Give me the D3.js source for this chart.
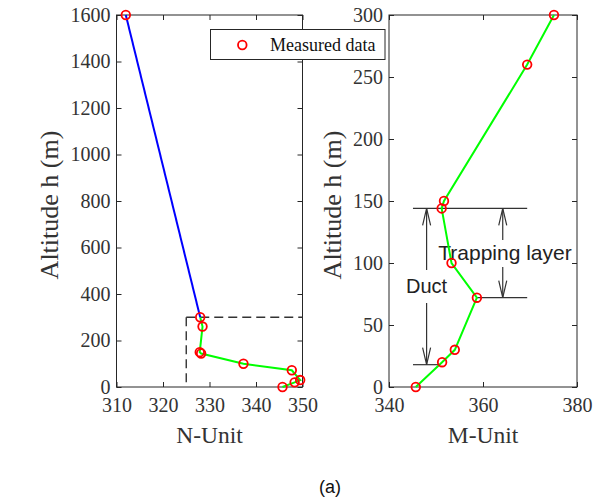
<!DOCTYPE html>
<html><head><meta charset="utf-8">
<script src="https://cdn.jsdelivr.net/npm/d3@7/dist/d3.min.js"></script>
<style>body{margin:0;background:#fff}svg{display:block}</style>
</head><body>
<svg id="c" width="593" height="502"></svg>
<script>
// ---- data ----
const altitudeN = [0, 20, 30, 72, 100, 144, 150, 260, 300, 1600];
const nUnit     = [345.7, 348.3, 349.5, 347.7, 337.3, 328.2, 327.9, 328.5, 328.0, 312.0];
const altitudeM = [0, 20, 30, 72, 100, 144, 150, 260, 300];
const mUnit     = [345.7, 351.3, 354.0, 358.7, 353.3, 351.2, 351.7, 369.4, 375.1];
const nTicks = [310, 320, 330, 340, 350];
const hTicksLeft = [0, 200, 400, 600, 800, 1000, 1200, 1400, 1600];
const mTicks = [340, 360, 380];
const hTicksRight = [0, 50, 100, 150, 200, 250, 300];
const zoomCorner = [325, 300];            // N-unit, altitude of dashed box corner
const ductLevels = [144, 18];             // top, bottom of duct (m)
const trapLevels = [144, 72];             // top, bottom of trapping layer (m)
const ductArrowM = 348;
const trapArrowM = 364.2;
const barTopM = [345.1, 369.4];
const barMidM = [358.7, 369.4];
const barBotM = [345.1, 350.9];
const legendLabel = "Measured data";

const svg = d3.select("#c");
const axisCol = "#262626";
const textCol = "#333";
const serif = "'Liberation Serif','Times New Roman',serif";
const sans = "'Liberation Sans',Arial,sans-serif";

const yTop = 15, yBot = 387;
const xN = d3.scaleLinear().domain([310, 350]).range([116.5, 302.5]);
const yN = d3.scaleLinear().domain([0, 1600]).range([yBot, yTop]);
const xM = d3.scaleLinear().domain([340, 380]).range([389, 577]);
const yM = d3.scaleLinear().domain([0, 300]).range([yBot, yTop]);

function drawAxes(x, y, xt, yt, xlab, ylabX) {
  const g = svg.append("g");
  const [x0, x1] = x.range();
  const styleAxis = sel => {
    sel.attr("font-family", null).attr("font-size", null);
    sel.select(".domain").remove();
    sel.selectAll("line").attr("stroke", axisCol).attr("stroke-width", 1);
    sel.selectAll("text").attr("fill", textCol).attr("font-family", serif).style("font-family", serif).style("font-size", "20px");
  };
  g.append("g").attr("transform", `translate(0,${yBot})`)
    .call(d3.axisBottom(x).tickValues(xt).tickSize(-5).tickPadding(11).tickFormat(d3.format("d"))).call(styleAxis);
  g.append("g").attr("transform", `translate(0,${yTop})`)
    .call(d3.axisTop(x).tickValues(xt).tickSize(-5).tickFormat("")).call(styleAxis);
  g.append("g").attr("transform", `translate(${x0},0)`)
    .call(d3.axisLeft(y).tickValues(yt).tickSize(-5).tickPadding(6).tickFormat(d3.format("d"))).call(styleAxis);
  g.append("g").attr("transform", `translate(${x1},0)`)
    .call(d3.axisRight(y).tickValues(yt).tickSize(-5).tickFormat("")).call(styleAxis);
  g.append("rect").attr("x", x0).attr("y", yTop).attr("width", x1 - x0).attr("height", yBot - yTop)
    .attr("fill", "none").attr("stroke", axisCol).attr("stroke-width", 1);
  g.append("text").attr("x", (x0 + x1) / 2).attr("y", 443).attr("text-anchor", "middle")
    .style("font-family", serif).style("font-size", "23.5px").attr("fill", textCol).text(xlab);
  g.append("text").attr("transform", `translate(${ylabX},205) rotate(-90)`).attr("text-anchor", "middle")
    .style("font-family", serif).style("font-size", "26px").attr("fill", textCol).text("Altitude h (m)");
}

drawAxes(xN, yN, nTicks, hTicksLeft, "N-Unit", 58);
drawAxes(xM, yM, mTicks, hTicksRight, "M-Unit", 341);

// ---- left plot ----
const dash = "9,5";
svg.append("line").attr("x1", xN(zoomCorner[0])).attr("x2", xN(350))
  .attr("y1", yN(zoomCorner[1])).attr("y2", yN(zoomCorner[1]))
  .attr("stroke", "#333").attr("stroke-width", 1.4).attr("stroke-dasharray", dash);
svg.append("line").attr("x1", xN(zoomCorner[0])).attr("x2", xN(zoomCorner[0]))
  .attr("y1", yN(zoomCorner[1])).attr("y2", yN(0))
  .attr("stroke", "#333").attr("stroke-width", 1.4).attr("stroke-dasharray", dash);

const ptsN = altitudeN.map((h, i) => [nUnit[i], h]);
const lineN = d3.line().x(d => xN(d[0])).y(d => yN(d[1]));
svg.append("path").attr("d", lineN(ptsN.slice(0, 9))).attr("fill", "none")
  .attr("stroke", "#00ff00").attr("stroke-width", 2);
svg.append("path").attr("d", lineN(ptsN.slice(8))).attr("fill", "none")
  .attr("stroke", "#0000ff").attr("stroke-width", 2);
svg.append("g").selectAll("circle").data(ptsN).join("circle")
  .attr("cx", d => xN(d[0])).attr("cy", d => yN(d[1])).attr("r", 4.3)
  .attr("fill", "none").attr("stroke", "#ff0000").attr("stroke-width", 1.8);

// ---- right plot annotations ----
const ann = svg.append("g").attr("stroke", "#333").attr("stroke-width", 1.2).attr("fill", "none");
function hbar(m, h) {
  ann.append("line").attr("x1", xM(m[0])).attr("x2", xM(m[1])).attr("y1", yM(h)).attr("y2", yM(h));
}
hbar(barTopM, ductLevels[0]);
hbar(barMidM, trapLevels[1]);
hbar(barBotM, ductLevels[1]);

function dblArrow(m, hTop, hBot, gapTop, gapBot) {
  const x = xM(m), y1 = yM(hTop), y2 = yM(hBot);
  ann.append("line").attr("x1", x).attr("x2", x).attr("y1", y1).attr("y2", gapTop);
  ann.append("line").attr("x1", x).attr("x2", x).attr("y1", gapBot).attr("y2", y2);
  ann.append("path").attr("d", `M${x - 4},${y1 + 17}L${x},${y1}L${x + 4},${y1 + 17}`);
  ann.append("path").attr("d", `M${x - 4},${y2 - 17}L${x},${y2}L${x + 4},${y2 - 17}`);
}
dblArrow(ductArrowM, ductLevels[0], ductLevels[1], 270, 303);
dblArrow(trapArrowM, trapLevels[0], trapLevels[1], 240, 267);

svg.append("text").attr("x", xM(ductArrowM)).attr("y", 293).attr("text-anchor", "middle")
  .style("font-family", sans).style("font-size", "20px").attr("fill", "#222").text("Duct");
svg.append("text").attr("x", 505).attr("y", 260).attr("text-anchor", "middle")
  .style("font-family", sans).style("font-size", "21px").attr("fill", "#222").text("Trapping layer");

const ptsM = altitudeM.map((h, i) => [mUnit[i], h]);
const lineM = d3.line().x(d => xM(d[0])).y(d => yM(d[1]));
svg.append("path").attr("d", lineM(ptsM)).attr("fill", "none")
  .attr("stroke", "#00ff00").attr("stroke-width", 2);
svg.append("g").selectAll("circle").data(ptsM).join("circle")
  .attr("cx", d => xM(d[0])).attr("cy", d => yM(d[1])).attr("r", 4.3)
  .attr("fill", "none").attr("stroke", "#ff0000").attr("stroke-width", 1.8);

// ---- legend ----
const lg = svg.append("g");
lg.append("rect").attr("x", 210.5).attr("y", 29.5).attr("width", 174.5).attr("height", 30)
  .attr("fill", "#fff").attr("stroke", axisCol).attr("stroke-width", 1);
lg.append("circle").attr("cx", 242.3).attr("cy", 45).attr("r", 4.3)
  .attr("fill", "none").attr("stroke", "#ff0000").attr("stroke-width", 1.8);
lg.append("text").attr("x", 270).attr("y", 51).style("font-family", serif).style("font-size", "18px")
  .attr("fill", "#111").text(legendLabel);

// ---- caption ----
svg.append("text").attr("x", 330).attr("y", 493).attr("text-anchor", "middle")
  .style("font-family", sans).style("font-size", "18px").attr("fill", "#111").text("(a)");
</script>
</body></html>
